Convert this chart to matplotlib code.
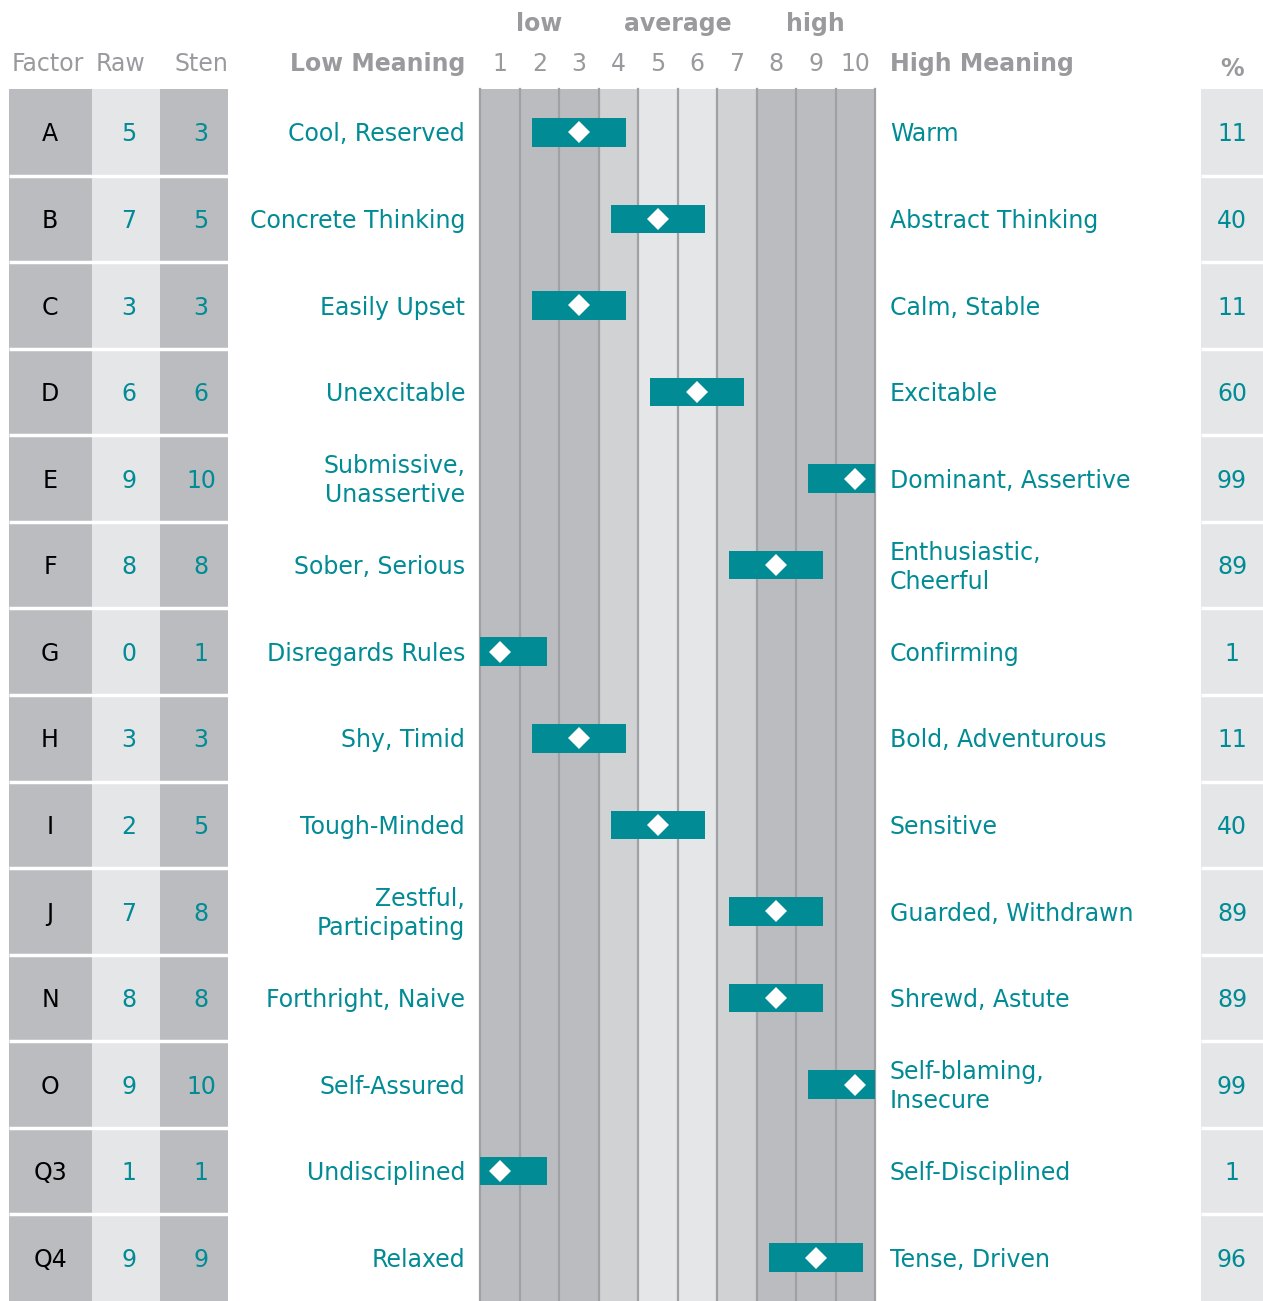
import matplotlib
matplotlib.use("Agg")
import matplotlib.pyplot as plt
from matplotlib.patches import Rectangle
import matplotlib.transforms as mtransforms

# data
factors = ["A", "B", "C", "D", "E", "F", "G", "H", "I", "J", "N", "O", "Q3", "Q4"]
raw = [5, 7, 3, 6, 9, 8, 0, 3, 2, 7, 8, 9, 1, 9]
sten = [3, 5, 3, 6, 10, 8, 1, 3, 5, 8, 8, 10, 1, 9]
pct = [11, 40, 11, 60, 99, 89, 1, 11, 40, 89, 89, 99, 1, 96]
low_meaning = ["Cool, Reserved", "Concrete Thinking", "Easily Upset", "Unexcitable",
               "Submissive,\nUnassertive", "Sober, Serious", "Disregards Rules",
               "Shy, Timid", "Tough-Minded", "Zestful,\nParticipating",
               "Forthright, Naive", "Self-Assured", "Undisciplined", "Relaxed"]
high_meaning = ["Warm", "Abstract Thinking", "Calm, Stable", "Excitable",
                "Dominant, Assertive", "Enthusiastic,\nCheerful", "Confirming",
                "Bold, Adventurous", "Sensitive", "Guarded, Withdrawn",
                "Shrewd, Astute", "Self-blaming,\nInsecure", "Self-Disciplined",
                "Tense, Driven"]
sten_scale = list(range(1, 11))
band_labels = ["low", "average", "high"]
band_pos = [2, 5.5, 9]

# colours
teal = "#008b95"
dark = "#bbbcc0"
mid = "#d1d2d4"
light = "#e5e6e8"
sep = "#a0a1a5"
hdr = "#9a9a9e"
band_colors = [dark, dark, dark, mid, light, light, mid, dark, dark, dark]

W, H = 1263, 1301
plt.rcParams["font.family"] = ["DejaVu Sans"]
fig = plt.figure(figsize=(W / 100, H / 100), dpi=100)

x0, x1, ytop = 480, 875, 89
ax = fig.add_axes([x0 / W, 0, (x1 - x0) / W, (H - ytop) / H])
n = len(factors)
ax.set_xlim(0, 10)
ax.set_ylim(n, 0)
ax.axis("off")

# background bands
for i, c in enumerate(band_colors):
    ax.axvspan(i, i + 1, color=c, zorder=0, lw=0)
for i in range(11):
    ax.axvline(i, color=sep, lw=1.6, zorder=1, clip_on=False)

# bars and diamonds
ys = [i + 0.5 for i in range(n)]
centers = [s - 0.5 for s in sten]
ax.barh(ys, 2.38, left=[c - 1.19 for c in centers], height=0.33,
        color=teal, zorder=2)
ax.plot(centers, ys, "D", color="white", markersize=11, markeredgewidth=0,
        zorder=3)

# helpers: x in pixels -> axes fraction, y in data rows
tr = mtransforms.blended_transform_factory(ax.transAxes, ax.transData)


def fx(px):
    return (px - x0) / (x1 - x0)


fs = 17
dy = 0.025
# left table
for i in range(n):
    for (a, b, col) in [(9, 92, dark), (92, 160, light), (160, 228, dark), (1201, 1263, light)]:
        ax.add_patch(Rectangle((fx(a), i), fx(b) - fx(a), 1, transform=tr,
                               facecolor=col, edgecolor="none", clip_on=False, zorder=0))
    if i > 0:
        for (a, b) in [(9, 228), (1201, 1263)]:
            ax.plot([fx(a), fx(b)], [i, i], transform=tr, color="white", lw=2.5,
                    clip_on=False, zorder=1, solid_capstyle="butt")
    y = i + 0.5 + dy
    ax.text(fx(50), y, factors[i], transform=tr, ha="center", va="center",
            fontsize=fs, color="black")
    ax.text(fx(129), y, str(raw[i]), transform=tr, ha="center", va="center",
            fontsize=fs, color=teal)
    ax.text(fx(201), y, str(sten[i]), transform=tr, ha="center", va="center",
            fontsize=fs, color=teal)
    ax.text(fx(465), y, low_meaning[i], transform=tr, ha="right", va="center",
            fontsize=fs, color=teal, multialignment="right", linespacing=1.28)
    ax.text(fx(890), y, high_meaning[i], transform=tr, ha="left", va="center",
            fontsize=fs, color=teal, linespacing=1.28)
    ax.text(fx(1232), y, str(pct[i]), transform=tr, ha="center", va="center",
            fontsize=fs, color=teal)

# headers (figure pixel coordinates)
def ftext(px, py, s, **kw):
    fig.text(px / W, 1 - py / H, s, va="center", fontsize=fs, color=hdr, **kw)


ftext(48, 64, "Factor", ha="center")
ftext(121, 64, "Raw", ha="center")
ftext(201, 64, "Sten", ha="center")
ftext(465, 64, "Low Meaning", ha="right", fontweight="bold")
ftext(890, 64, "High Meaning", ha="left", fontweight="bold")
ftext(1232, 69, "%", ha="center", fontweight="bold")
for s in sten_scale:
    ax.text(s - 0.5, -0.29, str(s), ha="center", va="center", fontsize=fs,
            color=hdr)
for lab, p in zip(band_labels, band_pos):
    ax.text(p - 0.5, -0.75, lab, ha="center", va="center", fontsize=fs,
            color=hdr, fontweight="bold")

fig.savefig("out.png", dpi=100)
